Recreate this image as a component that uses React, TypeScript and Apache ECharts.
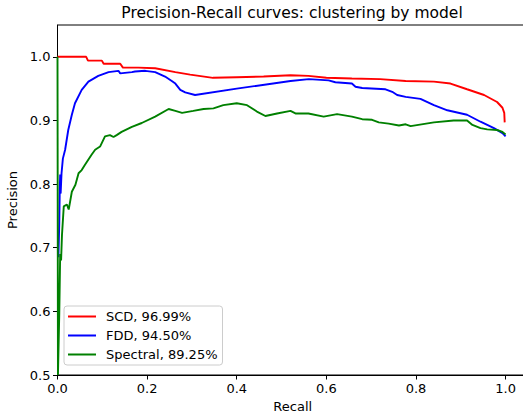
import React, { useEffect, useRef } from "react";
import * as echarts from "echarts";

const TITLE = "Precision-Recall curves: clustering by model";
const X_TICKS = [0, 0.2, 0.4, 0.6, 0.8, 1.0];
const Y_TICKS = [0.5, 0.6, 0.7, 0.8, 0.9, 1.0];
const SERIES_NAMES = ["SCD, 96.99%", "FDD, 94.50%", "Spectral, 89.25%"];
const SERIES_COLORS = ["#ff0000", "#0000ff", "#008000"];

// [recall, precision]
const scdCurve: number[][] = [
  [0, 1.0], [0.064, 1.0], [0.068, 0.994], [0.099, 0.994], [0.103, 0.989], [0.14, 0.989],
  [0.146, 0.983], [0.18, 0.983], [0.218, 0.982], [0.263, 0.976], [0.296, 0.972], [0.347, 0.967],
  [0.4, 0.968], [0.46, 0.969], [0.52, 0.971], [0.56, 0.97], [0.6, 0.967], [0.657, 0.966],
  [0.72, 0.965], [0.777, 0.962], [0.84, 0.961], [0.877, 0.958], [0.914, 0.949], [0.952, 0.94],
  [0.981, 0.929], [0.993, 0.92], [0.997, 0.912], [0.998, 0.897],
];

const fddCurve: number[][] = [
  [0.002, 0.685], [0.004, 0.74], [0.005, 0.79], [0.006, 0.815], [0.007, 0.785], [0.009, 0.817],
  [0.012, 0.84], [0.017, 0.854], [0.024, 0.885], [0.032, 0.909], [0.039, 0.927], [0.054, 0.948],
  [0.069, 0.961], [0.091, 0.97], [0.114, 0.976], [0.136, 0.978], [0.14, 0.974], [0.166, 0.976],
  [0.173, 0.977], [0.196, 0.978], [0.218, 0.976], [0.24, 0.969], [0.255, 0.962], [0.263, 0.958],
  [0.274, 0.948], [0.285, 0.944], [0.307, 0.94], [0.4, 0.95], [0.52, 0.962], [0.561, 0.965],
  [0.605, 0.963], [0.62, 0.96], [0.657, 0.958], [0.665, 0.953], [0.68, 0.951], [0.732, 0.949],
  [0.747, 0.945], [0.758, 0.94], [0.777, 0.937], [0.81, 0.934], [0.84, 0.924], [0.87, 0.916],
  [0.914, 0.909], [0.944, 0.898], [0.974, 0.888], [0.993, 0.88], [1.0, 0.875],
];

const spectralCurve: number[][] = [
  [0, 1.0], [0.001, 0.5], [0.004, 0.598], [0.006, 0.69], [0.008, 0.68], [0.01, 0.72],
  [0.014, 0.765], [0.021, 0.768], [0.025, 0.76], [0.032, 0.788], [0.04, 0.799], [0.047, 0.817],
  [0.054, 0.822], [0.061, 0.83], [0.076, 0.846], [0.084, 0.854], [0.095, 0.859], [0.106, 0.875],
  [0.117, 0.877], [0.125, 0.874], [0.132, 0.877], [0.143, 0.882], [0.166, 0.89], [0.188, 0.896],
  [0.218, 0.906], [0.248, 0.918], [0.263, 0.915], [0.278, 0.912], [0.303, 0.915], [0.326, 0.918],
  [0.348, 0.919], [0.37, 0.924], [0.4, 0.927], [0.423, 0.924], [0.445, 0.914], [0.464, 0.907],
  [0.49, 0.911], [0.52, 0.915], [0.531, 0.911], [0.56, 0.911], [0.594, 0.906], [0.624, 0.91],
  [0.657, 0.906], [0.68, 0.902], [0.702, 0.901], [0.717, 0.897], [0.739, 0.895], [0.762, 0.892],
  [0.777, 0.894], [0.788, 0.891], [0.84, 0.897], [0.884, 0.9], [0.914, 0.9], [0.926, 0.893],
  [0.944, 0.888], [0.959, 0.886], [0.981, 0.885], [0.993, 0.882], [1.0, 0.878],
];

const CURVES = [scdCurve, fddCurve, spectralCurve];
const FONT = "DejaVu Sans";

export default function App() {
  const ref = useRef<HTMLDivElement>(null);
  useEffect(() => {
    if (!ref.current) return;
    const chart = echarts.init(ref.current, null, { renderer: "svg" });
    chart.setOption({
      animation: false,
      backgroundColor: "#ffffff",
      textStyle: { fontFamily: FONT, color: "#000" },
      title: {
        text: TITLE,
        left: 287,
        top: 0,
        textAlign: "center",
        textStyle: { fontFamily: FONT, fontSize: 15.5, fontWeight: "normal", color: "#000" },
      },
      grid: {
        left: 57.5,
        top: 25,
        right: -5,
        bottom: 39,
        containLabel: false,
        outerBoundsMode: "none",
        show: true,
        borderColor: "#000",
        borderWidth: 1,
        backgroundColor: "transparent",
      },
      legend: {
        orient: "vertical",
        left: 64,
        top: 306,
        padding: [4, 5, 4, 4],
        itemWidth: 28,
        itemHeight: 2,
        itemGap: 6,
        icon: "rect",
        backgroundColor: "rgba(255,255,255,0.8)",
        borderColor: "#cccccc",
        borderWidth: 1,
        borderRadius: 3,
        textStyle: { fontFamily: FONT, fontSize: 13, color: "#000", padding: [0, 0, 0, 5] },
        data: SERIES_NAMES,
      },
      xAxis: {
        type: "value",
        min: 0,
        max: 1.05,
        name: "Recall",
        nameLocation: "middle",
        nameGap: 25,
        nameTextStyle: { fontFamily: FONT, fontSize: 13, color: "#000" },
        axisLine: { show: true, lineStyle: { color: "#000", width: 1 } },
        axisTick: { show: true, length: 4.5, lineStyle: { color: "#000" }, customValues: X_TICKS },
        axisLabel: {
          customValues: X_TICKS,
          fontFamily: FONT,
          fontSize: 13,
          color: "#000",
          margin: 7,
          formatter: (v: number) => v.toFixed(1),
        },
        splitLine: { show: false },
      },
      yAxis: {
        type: "value",
        min: 0.5,
        max: 1.05,
        name: "Precision",
        nameLocation: "middle",
        nameGap: 36,
        nameRotate: 90,
        nameTextStyle: { fontFamily: FONT, fontSize: 13, color: "#000" },
        axisLine: { show: true, lineStyle: { color: "#000", width: 1 } },
        axisTick: { show: true, length: 4.5, lineStyle: { color: "#000" }, customValues: Y_TICKS },
        axisLabel: {
          customValues: Y_TICKS,
          fontFamily: FONT,
          fontSize: 13,
          color: "#000",
          margin: 7,
          formatter: (v: number) => v.toFixed(1),
        },
        splitLine: { show: false },
      },
      series: CURVES.map((curve, i) => ({
        name: SERIES_NAMES[i],
        type: "line",
        data: curve,
        symbol: "none",
        showSymbol: false,
        clip: false,
        color: SERIES_COLORS[i],
        itemStyle: { color: SERIES_COLORS[i] },
        lineStyle: { color: SERIES_COLORS[i], width: 1.9 },
      })),
    });
    return () => chart.dispose();
  }, []);
  return <div ref={ref} style={{ width: 523, height: 414, position: "absolute", left: 0, top: 0 }} />;
}
